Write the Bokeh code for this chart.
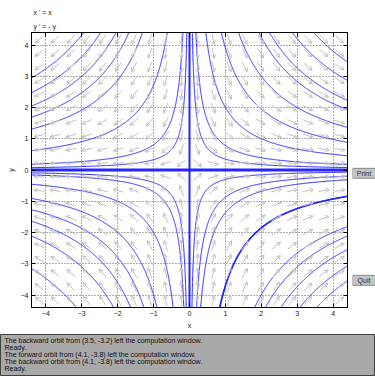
import numpy as np
from bokeh.plotting import figure
from bokeh.models import (Range1d, LinearAxis, FixedTicker, Title, ColumnDataSource,
                          Arrow, OpenHead)
from bokeh.layouts import column, row
from bokeh.embed import file_html
from bokeh.resources import INLINE

# ---------------- data ----------------
x_lim = (-4.4, 4.4)
y_lim = (-4.4, 4.4)
tick_values = [-4, -3, -2, -1, 0, 1, 2, 3, 4]
equations = ["x ' = x", "y ' = - y"]

# starting points of the computed orbits (x' = x, y' = -y)
orbit_x0 = [-3.6, -3.3, -3.0, -2.7, -2.4, -1.6, -0.9, -0.6,
            0.6, 0.9, 1.4, 2.0, 2.4, 2.9, 3.1, 3.5, 3.9,
            0.55, 0.9, 1.2, 1.9, 2.8, 3.0, 3.5, 3.7, 4.1,
            -0.6, -0.8, -1.4, -2.0, -2.4, -2.7, -3.0, -3.7]
orbit_y0 = [3.6, 3.3, 3.0, 2.75, 2.4, 1.7, 0.9, 0.55,
            0.58, 0.87, 1.43, 1.95, 2.5, 2.93, 3.16, 3.6, 3.9,
            -0.55, -0.97, -1.14, -1.95, -2.85, -3.1, -3.2, -3.65, -3.8,
            -0.67, -0.87, -1.43, -2.0, -2.33, -2.67, -3.1, -3.75]
# separatrix orbits on the axes
axis_orbit_x0 = [0.0, 0.0, 3.0, -3.0]
axis_orbit_y0 = [3.0, -3.0, 0.0, 0.0]

messages = [
    "The backward orbit from (3.5, -3.2) left the computation window.",
    "Ready.",
    "The forward orbit from (4.1, -3.8) left the computation window.",
    "The backward orbit from (4.1, -3.8) left the computation window.",
    "Ready.",
]
button_labels = ["Print", "Quit"]
n_field = 20

# ---------------- style ----------------
FONT = "Liberation Sans"
CURVE = "#2525ff"
ARROW = "#c2c2c2"
FRAME_W, FRAME_H = 316, 275
px_x = FRAME_W / (x_lim[1] - x_lim[0])
px_y = FRAME_H / (y_lim[1] - y_lim[0])


def field(x, y):
    return x, -y


def orbit(x0, y0, n=400, lim=4.6):
    # exact solution x = x0 e^t, y = y0 e^-t
    t_hi = np.log(lim / abs(x0)) if x0 != 0 else np.log(abs(y0) / 1e-3)
    t_lo = -np.log(lim / abs(y0)) if y0 != 0 else np.log(1e-3 / abs(x0))
    t = np.linspace(t_lo, t_hi, n)
    return list(x0 * np.exp(t)), list(y0 * np.exp(-t))


p = figure(width=352, height=334, x_range=Range1d(*x_lim), y_range=Range1d(*y_lim),
           output_backend="svg", toolbar_location=None, title=None,
           min_border_left=31, min_border_right=5, min_border_top=32, min_border_bottom=27,
           x_axis_label="x", y_axis_label="y")
p.background_fill_color = "white"
p.border_fill_color = "white"
p.outline_line_color = "black"
p.outline_line_width = 1

for ax in (p.xaxis[0], p.yaxis[0]):
    ax.ticker = FixedTicker(ticks=tick_values)
    ax.major_tick_in = 4
    ax.major_tick_out = 0
    ax.minor_tick_in = 0
    ax.minor_tick_out = 0
    ax.axis_line_color = "black"
    ax.major_tick_line_color = "black"
    ax.major_label_text_font = FONT
    ax.major_label_text_font_size = "7px"
    ax.major_label_text_color = "#202020"
    ax.major_label_standoff = 3
    ax.axis_label_text_font = FONT
    ax.axis_label_text_font_size = "7px"
    ax.axis_label_text_font_style = "normal"
    ax.axis_label_text_color = "#202020"
    ax.axis_label_standoff = 3

for side in ("above", "right"):
    ax = LinearAxis(ticker=FixedTicker(ticks=tick_values),
                    major_label_overrides={t: "" for t in tick_values},
                    major_tick_in=4, major_tick_out=0, minor_tick_in=0, minor_tick_out=0,
                    major_label_standoff=0, axis_line_color="black")
    p.add_layout(ax, side)

p.grid.ticker = FixedTicker(ticks=tick_values)
p.grid.grid_line_color = "#5a5a5a"
p.grid.grid_line_dash = "1 2"
p.grid.grid_line_width = 1

p.add_layout(Title(text=equations[1], align="left", offset=2, standoff=6,
                   text_font=FONT, text_font_size="7px", text_font_style="normal",
                   text_color="#202020"), "above")
p.add_layout(Title(text=equations[0], align="left", offset=2, standoff=4,
                   text_font=FONT, text_font_size="7px", text_font_style="normal",
                   text_color="#202020"), "above")

# direction field
dx = (x_lim[1] - x_lim[0]) / n_field
dy = (y_lim[1] - y_lim[0]) / n_field
gx = x_lim[0] + (np.arange(n_field) + 0.5) * dx
gy = y_lim[0] + (np.arange(n_field) + 0.5) * dy
GX, GY = np.meshgrid(gx, gy)
U, V = field(GX, GY)
su, sv = U * px_x, V * px_y
nrm = np.hypot(su, sv)
L = 11.0
ox = 0.5 * L * su / nrm / px_x
oy = 0.5 * L * sv / nrm / px_y
arrow_src = ColumnDataSource(dict(x0=(GX - ox).ravel(), y0=(GY - oy).ravel(),
                                  x1=(GX + ox).ravel(), y1=(GY + oy).ravel()))
p.add_layout(Arrow(x_start="x0", y_start="y0", x_end="x1", y_end="y1", source=arrow_src,
                   line_color=ARROW, line_width=1,
                   end=OpenHead(size=4, line_color=ARROW, line_width=1)))

# orbits
xs, ys = [], []
for a, b in zip(orbit_x0, orbit_y0):
    cx, cy = orbit(a, b)
    xs.append(cx)
    ys.append(cy)
p.multi_line(xs, ys, line_color=CURVE, line_width=1)

thick_x, thick_y = orbit(orbit_x0[20], orbit_y0[20])
p.line(thick_x, thick_y, line_color=CURVE, line_width=1.7)

axs, ays = [], []
for a, b in zip(axis_orbit_x0, axis_orbit_y0):
    cx, cy = orbit(a, b)
    axs.append(cx)
    ays.append(cy)
p.multi_line(axs[:2], ays[:2], line_color=CURVE, line_width=2)
p.multi_line(axs[2:], ays[2:], line_color=CURVE, line_width=3)

# buttons column
btn_top = [165, 295]
btn_h = 12
b = figure(width=23, height=334, x_range=Range1d(0, 23), y_range=Range1d(334, 0),
           output_backend="svg", toolbar_location=None, x_axis_type=None, y_axis_type=None,
           min_border=0, title=None)
b.outline_line_color = None
b.grid.visible = False
b.background_fill_color = "white"
b.border_fill_color = "white"
tops = np.array(btn_top)
b.quad(left=0, right=23, top=tops, bottom=tops + btn_h, fill_color="#c4c4c4",
       line_color="#8a8a8a", line_width=1)
b.text(x=11.5, y=tops + btn_h / 2, text=button_labels, text_align="center",
       text_baseline="middle", text_font_size="7px", text_color="#303030",
       text_font={"value": FONT})

# message box
m = figure(width=375, height=42, x_range=Range1d(0, 375), y_range=Range1d(42, 0),
           output_backend="svg", toolbar_location=None, x_axis_type=None, y_axis_type=None,
           min_border=0, title=None)
m.grid.visible = False
m.background_fill_color = "#a9a9a9"
m.border_fill_color = "#a9a9a9"
m.outline_line_color = "#404040"
m.text(x=4, y=5.5 + 7.2 * np.arange(len(messages)), text=messages, text_align="left",
       text_baseline="middle", text_font_size="7px", text_color="#101010",
       text_font={"value": FONT})

layout = column(row(p, b), m)
open("out.html", "w").write(file_html(layout, INLINE))
